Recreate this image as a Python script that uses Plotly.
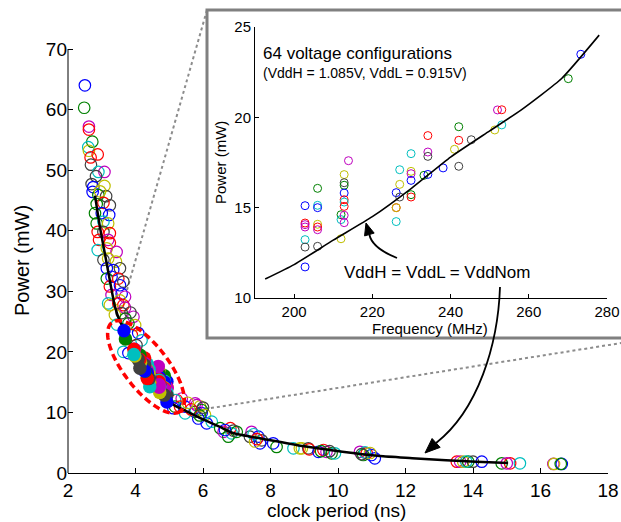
import plotly.graph_objects as go
import numpy as np

# ---------------- data ----------------
# main plot: open circles (clock period ns, power mW, colour code)
main_period = [2.50, 2.48, 2.62, 2.62, 2.72, 2.60, 2.62, 2.88, 2.67, 2.68, 2.90, 3.08, 2.83, 2.70, 2.75, 3.08, 2.73, 2.90, 3.13,
               2.95, 3.05, 2.85, 3.24, 2.80, 3.00, 3.22, 2.85, 3.05, 3.19, 2.88, 3.05, 3.24, 2.92, 3.19, 3.24, 2.88, 3.15, 3.44,
               3.05, 3.19, 3.42, 3.15, 3.34, 3.54, 3.15, 3.29, 3.49, 3.24, 3.54, 3.64, 3.29, 3.59, 3.69, 3.19, 3.64, 3.54,
               3.24, 3.49, 3.69, 3.59, 3.39, 3.94, 3.79, 3.99, 4.08, 3.89, 4.18, 3.64, 4.03, 3.79, 3.45, 3.70, 3.85,
               5.22, 5.37, 5.17, 5.47, 5.77, 5.91, 5.96, 5.17, 5.32, 5.47, 5.12, 5.81, 5.76, 5.96, 6.06, 5.86, 6.11, 6.26,
               5.65, 5.90, 6.00, 5.55,
               6.51, 6.81, 6.61, 6.85, 7.00, 6.75, 6.65, 6.90,
               7.44, 7.39, 7.64, 7.74, 7.69, 7.54, 7.50, 7.60, 8.08, 8.18,
               8.68, 8.93, 8.87, 9.12, 9.15, 9.42, 9.57, 9.66, 9.81, 9.91, 9.50, 9.75,
               10.65, 10.85, 10.99, 11.09, 10.75, 10.80, 10.95, 10.70,
               13.52, 13.62, 13.71, 13.86, 14.00, 14.26, 13.80,
               14.85, 15.10, 15.39, 15.00,
               16.38, 16.40, 16.63, 16.60]
main_power = [64.0, 60.3, 57.2, 56.7, 54.7, 53.8, 53.2, 52.6, 52.1, 50.9, 49.7, 49.7, 49.0, 47.7, 47.2, 47.4, 46.4, 45.9, 45.7,
              46.5, 44.6, 44.4, 44.2, 42.9, 42.9, 42.6, 41.2, 41.5, 41.2, 39.8, 39.8, 39.6, 38.5, 38.5, 38.0, 36.8, 37.1, 36.5,
              35.2, 35.4, 34.9, 33.8, 33.5, 33.8, 32.1, 32.4, 32.1, 30.8, 31.0, 31.6, 29.4, 29.6, 29.1, 28.0, 27.7, 28.5,
              27.7, 28.0, 27.3, 26.4, 26.1, 25.8, 24.7, 24.4, 23.1, 22.8, 21.9, 20.0, 21.1, 19.8, 24.5, 25.5, 26.5,
              12.05, 12.3, 10.96, 10.96, 11.5, 11.0, 9.9, 12.05, 10.95, 9.85, 10.7, 11.2, 10.1, 10.4, 9.6, 9.0, 8.2, 8.47,
              10.5, 9.5, 10.8, 11.6,
              7.4, 7.4, 6.8, 6.55, 6.8, 6.0, 7.1, 7.0,
              6.8, 6.0, 6.0, 5.4, 4.9, 5.2, 6.4, 5.6, 4.9, 4.3,
              4.07, 4.07, 4.07, 4.07, 3.9, 3.5, 3.8, 3.5, 3.25, 3.25, 3.6, 3.6,
              3.5, 3.25, 2.97, 2.42, 2.97, 3.4, 3.3, 3.1,
              1.87, 1.87, 1.87, 1.87, 1.87, 1.87, 1.9,
              1.6, 1.6, 1.6, 1.6,
              1.5, 1.5, 1.5, 1.5]
main_color = list("bgmrgcyrrkcmkkbybgk"
                  "yrgkgbbgcyrkrrmrcym"
                  "kyybbkgbrrbkmbmcry"
                  "yrmkymgybrcckbcgk"
                  "rmgbmybcrcbmkgybbc"
                  "rgky"
                  "grmcggbk"
                  "mkbkbycrbg"
                  "cyykrbrmgcgk"
                  "mrbbgcyk"
                  "rmygkbc"
                  "grcm"
                  "mybg")

# nominal-voltage curve in main plot
curve_period = [2.80, 2.95, 3.10, 3.25, 3.39, 3.54, 3.66, 3.85, 4.00, 4.17, 4.35, 4.55, 4.76, 5.00, 5.19, 5.32,
                5.91, 6.50, 6.89, 8.00, 9.00, 9.76, 10.50, 11.24, 12.20, 13.20, 14.10, 15.04]
curve_power = [45.8, 40.5, 36.0, 31.5, 27.5, 25.0, 23.8, 21.0, 19.3, 17.8, 16.1, 14.5, 13.2, 11.85, 11.05, 10.7,
               9.1, 7.6, 6.6, 5.4, 4.4, 3.8, 3.25, 2.8, 2.45, 2.1, 1.85, 1.65]

# inset: 64 voltage configurations (frequency MHz, power mW, colour code)
inset_freq = [202.8, 202.8, 202.8, 202.8, 202.8, 202.8, 202.8,
              206.0, 206.0, 206.0, 206.0, 206.0, 206.0, 206.0,
              212.0, 212.0, 212.0, 212.8, 212.8, 212.8, 212.8, 212.8, 212.8, 212.8, 212.8, 212.8, 213.9,
              226.1, 226.1, 226.1, 226.1, 227.0, 227.0, 227.0,
              229.9, 229.9, 229.9, 229.9, 229.9, 229.9, 233.2,
              234.2, 234.2, 234.2, 234.2, 238.1, 241.0, 242.1, 242.1, 242.1, 245.3,
              251.3, 252.0, 253.1, 253.1, 270.1, 273.3]
inset_power = [15.11, 14.15, 14.06, 13.93, 13.23, 12.82, 11.72,
               16.07, 15.13, 15.00, 14.08, 13.93, 13.78, 12.86,
               14.61, 14.34, 13.28, 16.83, 16.38, 16.24, 15.81, 15.44, 15.31, 15.07, 14.58, 14.17, 17.60,
               15.83, 15.00, 15.00, 14.23, 17.10, 16.29, 15.59,
               17.99, 17.01, 16.88, 16.51, 15.72, 15.59, 16.79,
               18.99, 18.08, 17.84, 16.84, 17.20, 18.23, 19.48, 18.73, 17.29, 18.76,
               19.30, 20.41, 20.42, 19.58, 22.14, 23.49]
inset_color = list("brmmckb" "gcbyrmk" "gcyykgbrcrmm" "m" "bryc" "cyk" "cymbgr" "g" "rmkb" "b" "ygrk" "k" "ymrc" "gb")

inset_curve_freq = [192.6, 200.0, 210.0, 220.0, 230.0, 240.0, 250.0, 258.0, 268.4, 278.0]
inset_curve_power = [11.05, 11.85, 13.2, 14.5, 16.07, 17.8, 19.25, 20.4, 22.15, 24.55]

main_xticks = [2, 4, 6, 8, 10, 12, 14, 16, 18]
main_yticks = [0, 10, 20, 30, 40, 50, 60, 70]
inset_xticks = [200, 220, 240, 260, 280]
inset_yticks = [10, 15, 20, 25]

# ---------------- styling ----------------
palette = {'b': 'rgb(0,0,255)', 'g': 'rgb(0,128,0)', 'r': 'rgb(255,0,0)', 'c': 'rgb(0,191,191)',
           'm': 'rgb(191,0,191)', 'y': 'rgb(191,191,0)', 'k': 'rgb(64,64,64)'}
FONT = "Arial, 'Liberation Sans', sans-serif"

W, H = 621, 522
ML, MR, MT, MB = 68, 13, 5, 49
PW = W - ML - MR
PH = H - MT - MB
YTOP = 70 * PH / 424.0   # 70 mW sits 424 px above the x axis


def pp(x, y):
    """pixel -> paper coordinates"""
    return (x - ML) / PW, (H - MB - y) / PH


n = min(len(main_period), len(main_power))
mc = (main_color + ['k'] * n)[:n]
ni = min(len(inset_freq), len(inset_power))
ic = (inset_color + ['k'] * ni)[:ni]

fig = go.Figure()
fig.add_trace(go.Scatter(x=main_period[:n], y=main_power[:n], mode='markers', xaxis='x', yaxis='y',
                         marker=dict(symbol='circle-open', size=11.5, color=[palette[c] for c in mc],
                                     line=dict(width=1.2)), hoverinfo='skip', showlegend=False))
fig.add_trace(go.Scatter(x=curve_period, y=curve_power, mode='lines', xaxis='x', yaxis='y',
                         line=dict(color='black', width=2.5, shape='spline', smoothing=0.6),
                         hoverinfo='skip', showlegend=False))
fig.add_trace(go.Scatter(x=[1000.0 / f for f in inset_freq[:ni]], y=inset_power[:ni], mode='markers',
                         xaxis='x', yaxis='y',
                         marker=dict(symbol='circle', size=13.5, color=[palette[c] for c in ic], line=dict(width=0)),
                         hoverinfo='skip', showlegend=False))
fig.add_trace(go.Scatter(x=inset_freq[:ni], y=inset_power[:ni], mode='markers', xaxis='x2', yaxis='y2',
                         marker=dict(symbol='circle-open', size=8, color=[palette[c] for c in ic],
                                     line=dict(width=1)), hoverinfo='skip', showlegend=False))
fig.add_trace(go.Scatter(x=inset_curve_freq, y=inset_curve_power, mode='lines', xaxis='x2', yaxis='y2',
                         line=dict(color='black', width=1.6, shape='spline', smoothing=0.5),
                         hoverinfo='skip', showlegend=False))

ix0, iy0 = pp(255, 298)
ix1, iy1 = pp(607, 27)

axis_common = dict(showgrid=False, zeroline=False, ticks='inside', tickcolor='black', tickwidth=1,
                   linecolor='black', linewidth=1, automargin=False)
fig.update_layout(
    width=W, height=H, margin=dict(l=ML, r=MR, t=MT, b=MB, autoexpand=False),
    paper_bgcolor='white', plot_bgcolor='white',
    font=dict(family=FONT, color='black'),
    xaxis=dict(domain=[0, 1], range=[2, 18], tickvals=main_xticks, showline=True, ticklen=5,
               tickfont=dict(size=19), anchor='y', **axis_common),
    yaxis=dict(domain=[0, 1], range=[0, YTOP], tickvals=main_yticks, showline=False, ticklen=5,
               tickfont=dict(size=19), anchor='x', **axis_common),
    xaxis2=dict(domain=[ix0, ix1], range=[190, 280], tickvals=inset_xticks, showline=True, ticklen=4,
                tickfont=dict(size=15), anchor='y2', **axis_common),
    yaxis2=dict(domain=[iy0, iy1], range=[10, 25], tickvals=inset_yticks, showline=True, ticklen=4,
                tickfont=dict(size=15), anchor='x2', **axis_common),
)

shapes = []
# main y-axis line only from 0 to 70
shapes.append(dict(type='line', xref='paper', yref='y', x0=0, x1=0, y0=0, y1=70,
                   line=dict(color='black', width=1), layer='above'))
# inset frame
bx0, by0 = pp(207, 338)
bx1, by1 = pp(640, 10)
shapes.append(dict(type='rect', xref='paper', yref='paper', x0=bx0, x1=bx1, y0=by0, y1=by1,
                   line=dict(color='rgb(128,128,128)', width=3), fillcolor='rgba(0,0,0,0)', layer='above'))
# dotted zoom lines
for (ax, ay), (bx, by) in [((127, 290), (207, 10)), ((205, 409), (653, 338))]:
    a = pp(ax, ay)
    b = pp(bx, by)
    shapes.append(dict(type='line', xref='paper', yref='paper', x0=a[0], y0=a[1], x1=b[0], y1=b[1],
                       line=dict(color='rgb(140,140,140)', width=2, dash='3px,3px'), layer='below'))
# dashed red ellipse
t = np.linspace(0, 2 * np.pi, 90)
cx, cy, ea, eb = 146.0, 367.0, 56.0, 22.0
ux, uy = 0.611, 0.791
ex = cx + ea * np.cos(t) * ux - eb * np.sin(t) * uy
ey = cy + ea * np.cos(t) * uy + eb * np.sin(t) * ux
pts = [pp(a, b) for a, b in zip(ex, ey)]
path = 'M ' + ' L '.join(f'{a:.5f},{b:.5f}' for a, b in pts) + ' Z'
shapes.append(dict(type='path', xref='paper', yref='paper', path=path,
                   line=dict(color='red', width=3.5, dash='7px,4px'), layer='above'))


def bez_path(points, kind):
    q = [pp(*p) for p in points]
    s = f'M {q[0][0]:.5f},{q[0][1]:.5f} {kind} ' + ' '.join(f'{a:.5f},{b:.5f}' for a, b in q[1:])
    return s


def head(tip, direction, length, half):
    dx, dy = direction
    nrm = (dx * dx + dy * dy) ** 0.5
    dx, dy = dx / nrm, dy / nrm
    bx_, by_ = tip[0] - dx * length, tip[1] - dy * length
    p1 = (bx_ + dy * half, by_ - dx * half)
    p2 = (bx_ - dy * half, by_ + dx * half)
    q = [pp(*tip), pp(*p1), pp(*p2)]
    return ('M ' + ' L '.join(f'{a:.5f},{b:.5f}' for a, b in q) + ' Z'), (bx_, by_)


# arrow 1 (inside inset)
h1, base1 = head((366, 223), (-0.28, -0.96), 12, 5)
shapes.append(dict(type='path', xref='paper', yref='paper',
                   path=bez_path([(397, 258), (372, 248), base1], 'Q'),
                   line=dict(color='black', width=1.8), layer='above'))
shapes.append(dict(type='path', xref='paper', yref='paper', path=h1, fillcolor='black',
                   line=dict(color='black', width=1), layer='above'))
# arrow 2 (to main curve)
h2, base2 = head((425, 453), (-0.74, 0.67), 15, 6)
shapes.append(dict(type='path', xref='paper', yref='paper',
                   path=bez_path([(500, 287), (498, 345), (478, 410), base2], 'C'),
                   line=dict(color='black', width=1.8), layer='above'))
shapes.append(dict(type='path', xref='paper', yref='paper', path=h2, fillcolor='black',
                   line=dict(color='black', width=1), layer='above'))
fig.update_layout(shapes=shapes)

ann = []


def text(x, y, s, size, xanchor='center', angle=0):
    px_, py_ = pp(x, y)
    ann.append(dict(x=px_, y=py_, xref='paper', yref='paper', text=s, showarrow=False,
                    font=dict(size=size, family=FONT, color='black'), xanchor=xanchor, yanchor='middle',
                    textangle=angle))


text(336, 511, 'clock period (ns)', 19)
text(22, 261, 'Power (mW)', 20, angle=-90)
text(430, 328, 'Frequency (MHz)', 15)
text(220, 163, 'Power (mW)', 15, angle=-90)
text(261, 54, '64 voltage configurations', 17, xanchor='left')
text(261, 73, '(VddH = 1.085V, VddL = 0.915V)', 14, xanchor='left')
text(437, 272, 'VddH = VddL = VddNom', 17)
fig.update_layout(annotations=ann)

fig.write_html('out.html', config={'displayModeBar': False},
               post_script="document.body.style.margin='0';document.body.style.overflow='hidden';")
